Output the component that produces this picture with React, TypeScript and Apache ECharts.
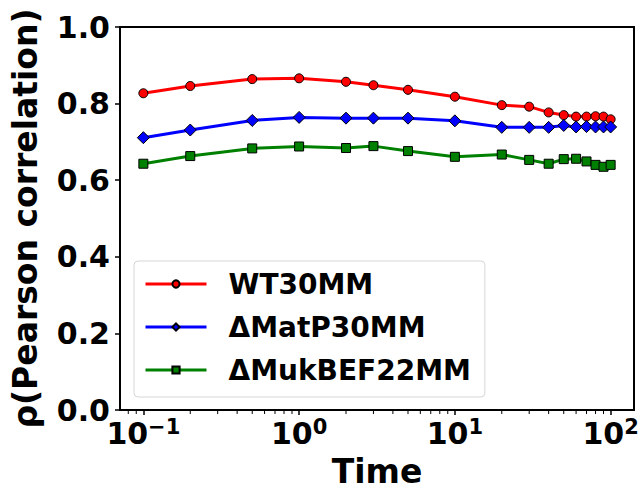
import React, { useEffect, useRef } from "react";
import * as echarts from "echarts";

const times = [0.1, 0.2, 0.5, 1, 2, 3, 5, 10, 20, 30, 40, 50, 60, 70, 80, 90, 100];
const wt30 = [0.827, 0.846, 0.864, 0.866, 0.857, 0.848, 0.836, 0.818, 0.796, 0.792, 0.777, 0.77, 0.766, 0.766, 0.767, 0.766, 0.759];
const matP30 = [0.711, 0.731, 0.756, 0.764, 0.762, 0.762, 0.762, 0.755, 0.738, 0.738, 0.738, 0.743, 0.739, 0.74, 0.739, 0.739, 0.739];
const mukBEF22 = [0.643, 0.663, 0.683, 0.688, 0.684, 0.689, 0.676, 0.661, 0.667, 0.653, 0.643, 0.655, 0.656, 0.649, 0.64, 0.635, 0.64];
const seriesNames = ["WT30MM", "ΔMatP30MM", "ΔMukBEF22MM"];
const yTicks = [0, 0.2, 0.4, 0.6, 0.8, 1.0];
const minorTicks = [0.08, 0.09, 0.2, 0.3, 0.4, 0.5, 0.6, 0.7, 0.8, 0.9, 2, 3, 4, 5, 6, 7, 8, 9, 20, 30, 40, 50, 60, 70, 80, 90];

const FONT = "DejaVu Sans";

export default function App() {
  const ref = useRef<HTMLDivElement>(null);
  useEffect(() => {
    if (!ref.current) return;
    const chart = echarts.init(ref.current, null, { renderer: "svg" });
    const mk = (name: string, data: number[], color: string, symbol: string, size: number) => ({
      name,
      type: "line",
      data: times.map((t, i) => [t, data[i]]),
      symbol,
      symbolSize: size,
      lineStyle: { color, width: 3 },
      itemStyle: { color, borderColor: "#000", borderWidth: 1 },
      z: 3,
    });
    chart.setOption({
      animation: false,
      grid: { left: 120, right: 9, top: 27, bottom: 81, show: true, borderColor: "#000", borderWidth: 2, outerBoundsMode: "none" },
      xAxis: {
        type: "log",
        logBase: 10,
        min: Math.pow(10, -1.15),
        max: Math.pow(10, 2.15),
        name: "Time",
        nameLocation: "middle",
        nameGap: 37,
        nameTextStyle: { fontFamily: FONT, fontWeight: "bold", fontSize: 33, color: "#000", lineHeight: 36 },
        axisLine: { lineStyle: { color: "#000", width: 2 } },
        axisTick: { show: true, length: 5, lineStyle: { color: "#000", width: 1.5 } },
        splitLine: { show: false },
        axisLabel: {
          showMinLabel: false,
          showMaxLabel: false,
          margin: 6,
          formatter: (v: number) => {
            const e = Math.round(Math.log10(v));
            if (Math.abs(Math.log10(v) - e) > 1e-6) return "";
            return `{b|10}{s|${e < 0 ? "−" + -e : e}}`;
          },
          rich: {
            b: { fontFamily: FONT, fontWeight: "bold", fontSize: 30, color: "#000" },
            s: { fontFamily: FONT, fontWeight: "bold", fontSize: 21, color: "#000", padding: [0, 0, 14, 0] },
          },
        },
      },
      yAxis: {
        type: "value",
        min: 0,
        max: 1,
        interval: 0.2,
        name: "ρ(Pearson correlation)",
        nameLocation: "middle",
        nameGap: 78,
        nameTextStyle: { fontFamily: FONT, fontWeight: "bold", fontSize: 33, color: "#000" },
        axisLine: { show: true, lineStyle: { color: "#000", width: 2 } },
        axisTick: { show: true, length: 5, lineStyle: { color: "#000", width: 1.5 } },
        splitLine: { show: false },
        axisLabel: {
          margin: 10,
          fontFamily: FONT,
          fontWeight: "bold",
          fontSize: 30,
          color: "#000",
          formatter: (v: number) => (yTicks.some((t) => Math.abs(t - v) < 1e-9) ? v.toFixed(1) : ""),
        },
      },
      legend: {
        data: seriesNames,
        orient: "vertical",
        left: 134,
        top: 261,
        padding: [8, 14, 12, 10],
        itemWidth: 61,
        itemHeight: 9,
        itemGap: 13,
        lineStyle: { width: 3 },
        backgroundColor: "rgba(255,255,255,0.8)",
        borderColor: "#d6d6d6",
        borderWidth: 1,
        borderRadius: 4,
        textStyle: { fontFamily: FONT, fontWeight: "bold", fontSize: 28, color: "#000", lineHeight: 30, padding: [0, 0, 0, 17] },
      },
      series: [
        mk(seriesNames[0], wt30, "#ff0000", "circle", 9),
        mk(seriesNames[1], matP30, "#0000ff", "diamond", 12),
        mk(seriesNames[2], mukBEF22, "#008000", "rect", 9),
        {
          name: "minor",
          type: "custom",
          silent: true,
          clip: false,
          data: minorTicks.map((t) => [t, 0]),
          renderItem: (params: any, api: any) => {
            const p = api.coord([api.value(0), 0]);
            return {
              type: "line",
              shape: { x1: p[0], y1: p[1] + 1, x2: p[0], y2: p[1] + 4 },
              style: { stroke: "#000", lineWidth: 1 },
            };
          },
        },
      ],
    });
    return () => chart.dispose();
  }, []);
  return <div ref={ref} style={{ width: 643, height: 491, position: "absolute", left: 0, top: 0, background: "#fff" }} />;
}
